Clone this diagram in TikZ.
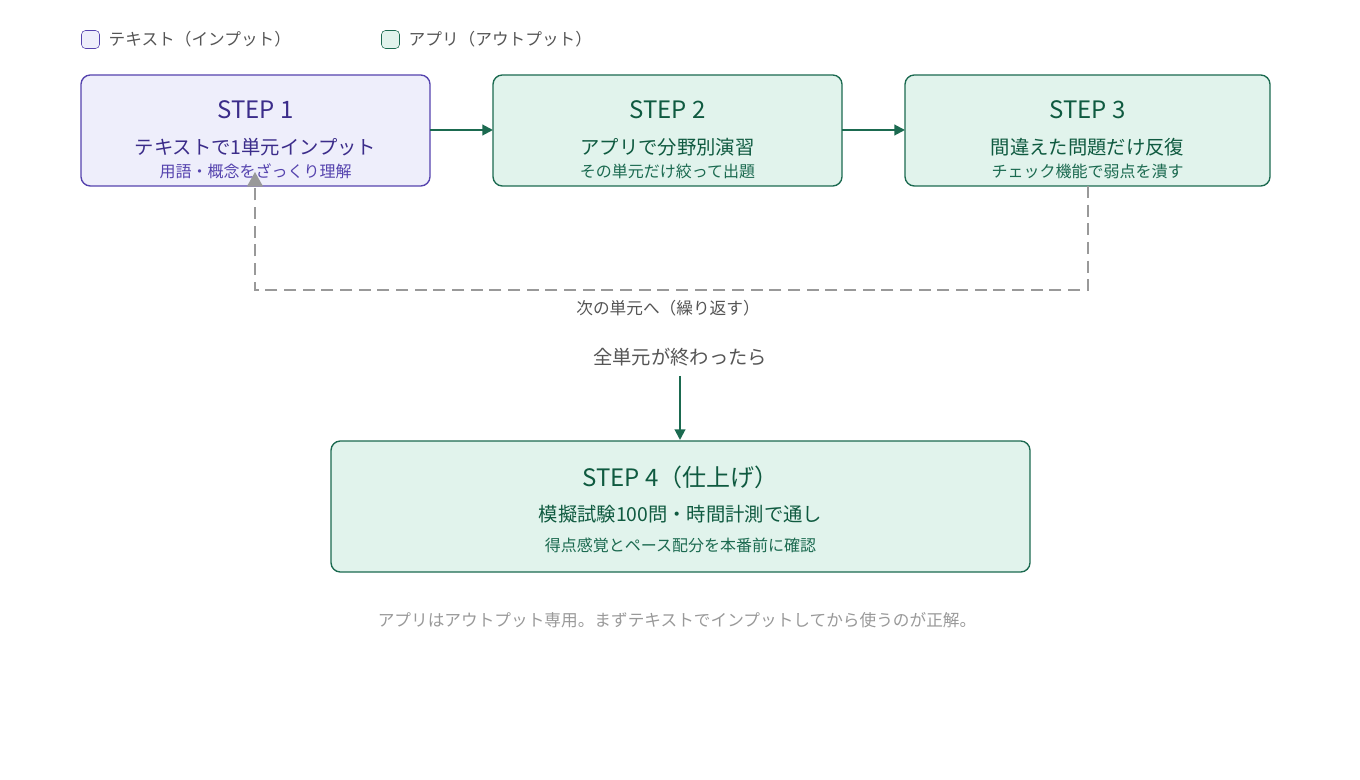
\documentclass[tikz,border=0pt]{standalone}
\usepackage{fontspec}
\setmainfont{Noto Sans CJK JP}
\usetikzlibrary{arrows.meta}
\definecolor{pfill}{HTML}{EEEEFB}
\definecolor{pline}{HTML}{5543AE}
\definecolor{ptext}{HTML}{3B2C8A}
\definecolor{gfill}{HTML}{E1F3EC}
\definecolor{gline}{HTML}{1B6A50}
\definecolor{gtext}{HTML}{0F5A40}
\definecolor{gray1}{HTML}{999999}
\definecolor{gray2}{HTML}{555555}
\begin{document}
\begin{tikzpicture}[x=0.75pt,y=-0.75pt,
  pbox/.style={draw=pline,fill=pfill,rounded corners=7pt,line width=1pt},
  gbox/.style={draw=gline,fill=gfill,rounded corners=7pt,line width=1pt},
  ttl/.style={font=\fontsize{18}{20}\selectfont},
  mid/.style={font=\fontsize{14.5}{17}\selectfont},
  sml/.style={font=\fontsize{12}{14}\selectfont},
  garrow/.style={draw=gline,line width=1.5pt,-{Triangle[length=8pt,width=8pt]}},
  lbl/.style={font=\fontsize{12.5}{14}\selectfont}]
\useasboundingbox (0,0) rectangle (1360,780);
% legend
\node[draw=pline,fill=pfill,rounded corners=3pt,minimum size=13.5pt,inner sep=0pt] (lg1) at (90.5,39.5) {};
\node[lbl,anchor=west,text=gray2] (lt1) at (104,39.5) {テキスト（インプット）};
\node[draw=gline,fill=gfill,rounded corners=3pt,minimum size=13.5pt,inner sep=0pt] (lg2) at (390.5,39.5) {};
\node[lbl,anchor=west,text=gray2] (lt2) at (404,39.5) {アプリ（アウトプット）};
% boxes
\draw[pbox] (81,75) rectangle (430,186);
\node[ttl,text=ptext] (s1t) at (255.5,110) {STEP 1};
\node[mid,text=ptext] (s1m) at (255.5,147) {テキストで1単元インプット};
\node[sml,text=pline] (s1s) at (255.5,171) {用語・概念をざっくり理解};
\coordinate (s1L) at (430,130);
\coordinate (s1B) at (255,172);
\draw[gbox] (493,75) rectangle (842,186);
\node[ttl,text=gtext] (s2t) at (667.5,110) {STEP 2};
\node[mid,text=gtext] (s2m) at (667.5,147) {アプリで分野別演習};
\node[sml,text=gline] (s2s) at (667.5,171) {その単元だけ絞って出題};
\coordinate (s2W) at (493,130);
\coordinate (s2E) at (842,130);
\draw[gbox] (905,75) rectangle (1270,186);
\node[ttl,text=gtext] (s3t) at (1087.5,110) {STEP 3};
\node[mid,text=gtext] (s3m) at (1087.5,147) {間違えた問題だけ反復};
\node[sml,text=gline] (s3s) at (1087.5,171) {チェック機能で弱点を潰す};
\coordinate (s3W) at (905,130);
\coordinate (s3B) at (1088,186);
\draw[gbox] (331,441) rectangle (1030,572);
\node[ttl,text=gtext] (s4t) at (680.5,477) {STEP 4（仕上げ）};
\node[mid,text=gtext] (s4m) at (680.5,514) {模擬試験100問・時間計測で通し};
\node[sml,text=gline] (s4s) at (680.5,545) {得点感覚とペース配分を本番前に確認};
\coordinate (s4T) at (680,440);
% arrows
\draw[garrow] (s1L) -- (s2W);
\draw[garrow] (s2E) -- (s3W);
\draw[gray1,line width=1.3pt,dash pattern=on 9pt off 5pt,-{Triangle[length=11pt,width=12pt]}] (s3B) -- (1088,290) -- (255,290) -- (s1B);
\node[lbl,text=gray2] (loop) at (668,308) {次の単元へ（繰り返す）};
\node[font=\fontsize{14.5}{17}\selectfont,text=gray2] (all) at (680,357) {全単元が終わったら};
\draw[garrow] (680,376) -- (s4T);
\node[lbl,text=gray1] (foot) at (677,620) {アプリはアウトプット専用。まずテキストでインプットしてから使うのが正解。};
\end{tikzpicture}
\end{document}
